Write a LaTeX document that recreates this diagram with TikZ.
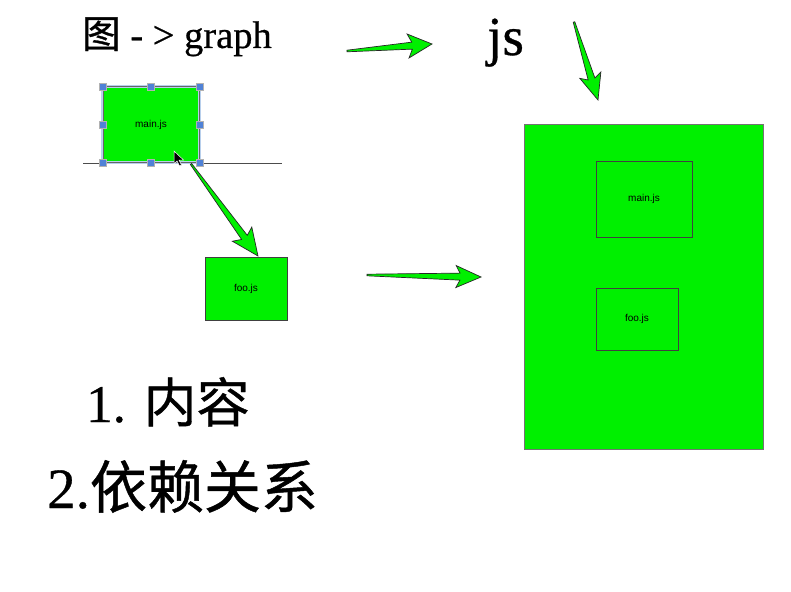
\documentclass[tikz,border=0pt]{standalone}
\usepackage{fontspec}
\setmainfont{Liberation Serif}[FakeBold=0.6]
\newfontfamily\cjk{Noto Sans CJK SC}[FakeBold=0.8]
\newfontfamily\lsans{Liberation Sans}
\usetikzlibrary{calc}
\definecolor{kgreen}{RGB}{0,240,0}
\definecolor{selblue}{RGB}{184,207,236}
\definecolor{hdlblue}{RGB}{80,130,215}
\makeatletter
\newcommand\fatarrow[5]{% from, to, head length, head half width, shaft half width
  \pgfpointdiff{\pgfpointanchor{#1}{center}}{\pgfpointanchor{#2}{center}}%
  \pgfgetlastxy{\fa@x}{\fa@y}%
  \pgfmathveclen{\fa@x}{\fa@y}\let\fa@len\pgfmathresult
  \pgfmathatantwo{\fa@y}{\fa@x}\let\fa@ang\pgfmathresult
  \begin{scope}[shift={(#1)}, rotate=\fa@ang, x=1pt, y=1pt]
    \draw[fatarr] (0,-0.8) -- (\fa@len-#3+3,-#5) -- (\fa@len-#3-1,-#4) -- (\fa@len,0)
      -- (\fa@len-#3-1,#4) -- (\fa@len-#3+3,#5) -- (0,0.8) -- cycle;
  \end{scope}}
\makeatother
\tikzset{
  gbox/.style={rectangle, fill=kgreen, draw=black!75, line width=0.6pt, inner sep=0pt,
    font=\lsans\fontsize{10}{12}\selectfont},
  bigbox/.style={rectangle, fill=kgreen, draw=black!55, line width=0.8pt, inner sep=0pt},
  handle/.style={rectangle, fill=hdlblue, draw=gray!60, line width=0.5pt, minimum size=7pt, inner sep=0pt},
  selframe/.style={draw=selblue, line width=2.5pt},
  fatarr/.style={fill=kgreen, draw=black!85, line width=0.7pt, line join=miter},
  bigtext/.style={inner sep=0pt, anchor=base west},
}
\begin{document}
\begin{tikzpicture}[x=1pt, y=-1pt]
\useasboundingbox (0,0) rectangle (791,591);
\fill[white] (0,0) rectangle (791,591);

% title texts
\node[bigtext, font=\fontsize{38.5}{42}\selectfont] (title) at (82,48) {{\cjk 图} - > graph};
\node[bigtext, font=\fontsize{55}{60}\selectfont] (js) at (487,55) {js};

% baseline
\coordinate (hl1) at (83,163);
\coordinate (hl2) at (282,163);
\draw[black!70, line width=0.6pt] (hl1) -- (hl2);

% main.js selected box
\node[gbox, minimum width=96pt, minimum height=75pt] (main) at (151,124.5) {main.js};
\draw[selframe] (main.north west) rectangle (main.south east);
\draw[black!60, line width=0.4pt] (main.north west) rectangle (main.south east);
\foreach \a [count=\i] in {north west, north, north east, west, east, south west, south, south east}
  \node[handle] (h\i) at (main.\a) {};

% cursor
\filldraw[fill=black, draw=white, line width=0.5pt] (174,151) -- ++(0,13) -- ++(3,-3) -- ++(2.5,5) -- ++(2,-1) -- ++(-2.5,-5) -- ++(4.5,0) -- cycle;

% foo.js box
\node[gbox, minimum width=82pt, minimum height=63pt] (foo) at (246,288.5) {foo.js};

% big bundle box
\node[bigbox, minimum width=239pt, minimum height=325pt] (big) at (643.5,286.5) {};
\node[gbox, minimum width=96pt, minimum height=76pt] (bmain) at (644,199) {main.js};
\node[gbox, minimum width=82pt, minimum height=62pt] (bfoo) at (637,319) {foo.js};

% arrows
\coordinate (a1s) at (347,51);
\coordinate (a1e) at (432,44);
\coordinate (a2s) at (574,22);
\coordinate (a2e) at (598,100);
\coordinate (a3s) at (191,164);
\coordinate (a3e) at (258,256);
\coordinate (a4s) at (367,275);
\coordinate (a4e) at (481,277);
\fatarrow{a1s}{a1e}{23}{12}{3.5}
\fatarrow{a2s}{a2e}{25}{11}{3.5}
\fatarrow{a3s}{a3e}{26}{12}{3.5}
\fatarrow{a4s}{a4e}{24}{11}{3.5}

% list texts
\node[bigtext, font=\fontsize{53}{60}\selectfont] (l1) at (86,422) {1. {\cjk 内容}};
\node[bigtext, font=\fontsize{57}{62}\selectfont] (l2) at (47,508) {2.{\cjk 依赖关系}};
\end{tikzpicture}
\end{document}
